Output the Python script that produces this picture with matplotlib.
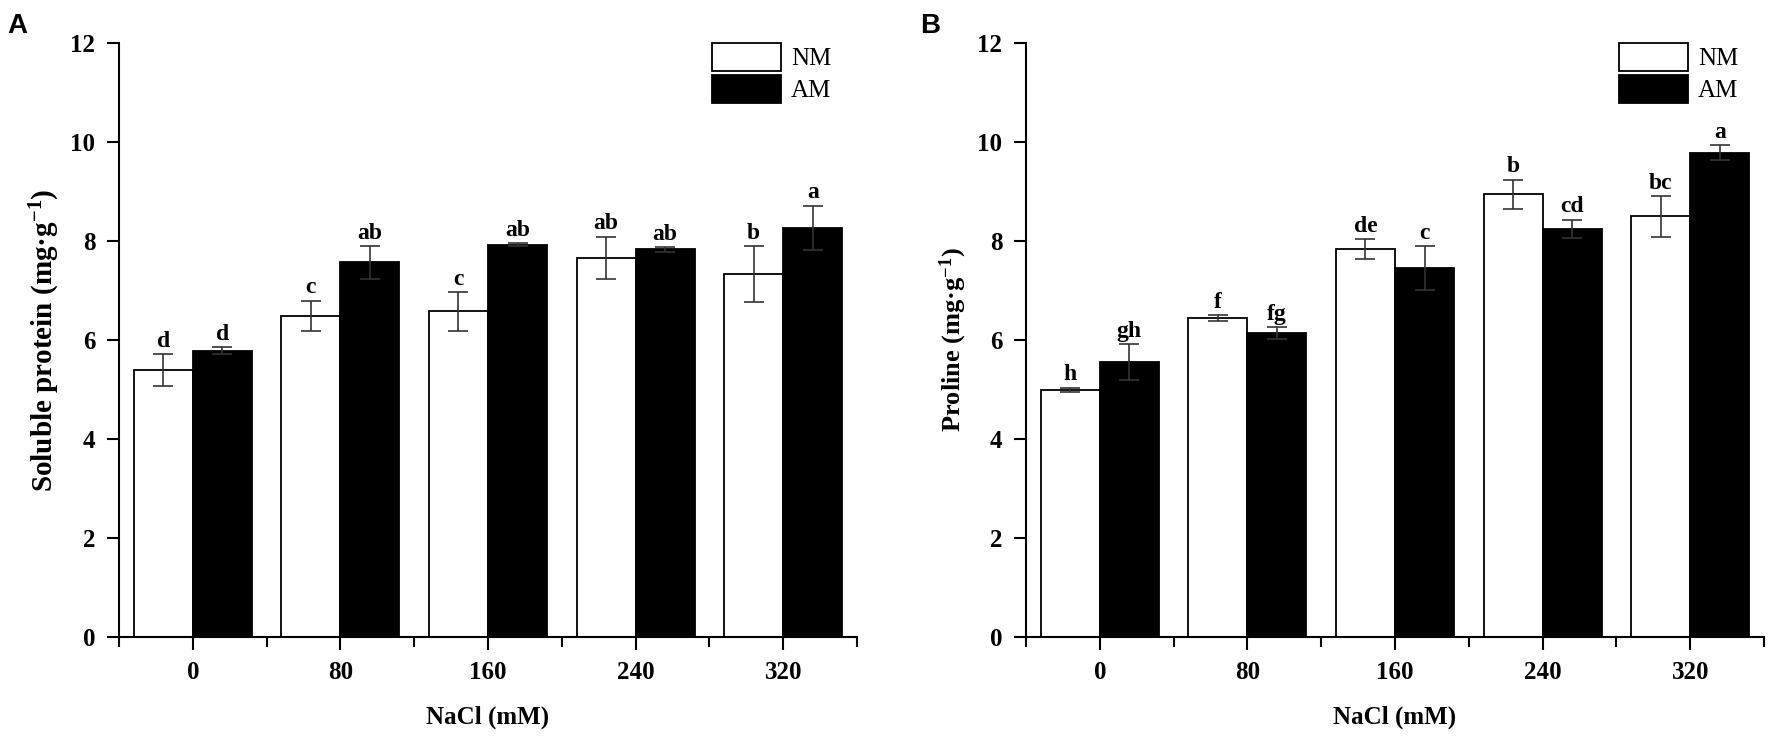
import numpy as np
import matplotlib
matplotlib.use("Agg")
import matplotlib.pyplot as plt
from matplotlib.ticker import MultipleLocator, FixedLocator

plt.rcParams['font.family'] = ['Liberation Serif', 'DejaVu Serif']
plt.rcParams['mathtext.fontset'] = 'custom'
plt.rcParams['mathtext.rm'] = 'Liberation Serif:bold'
plt.rcParams['mathtext.bf'] = 'Liberation Serif:bold'
plt.rcParams['mathtext.default'] = 'bf'

# NaCl levels
nacl = ['0', '80', '160', '240', '320']

# panel A - soluble protein
protein_nm = [5.39, 6.49, 6.58, 7.66, 7.33]
protein_nm_err = [0.32, 0.30, 0.39, 0.43, 0.57]
protein_am = [5.78, 7.57, 7.92, 7.83, 8.26]
protein_am_err = [0.07, 0.33, 0.03, 0.05, 0.45]
protein_nm_sig = ['d', 'c', 'c', 'ab', 'b']
protein_am_sig = ['d', 'ab', 'ab', 'ab', 'a']

# panel B - proline
proline_nm = [4.99, 6.44, 7.84, 8.94, 8.50]
proline_nm_err = [0.05, 0.06, 0.20, 0.30, 0.41]
proline_am = [5.55, 6.14, 7.45, 8.25, 9.78]
proline_am_err = [0.36, 0.12, 0.44, 0.18, 0.15]
proline_nm_sig = ['h', 'f', 'de', 'b', 'bc']
proline_am_sig = ['gh', 'fg', 'c', 'cd', 'a']

W, H = 1775, 746
fig = plt.figure(figsize=(W / 100, H / 100), dpi=100)

bw = 0.4


def panel(ax, nm, nm_err, am, am_err, nm_sig, am_sig, ylabel, ylabel_size):
    x = np.arange(len(nacl))
    ax.bar(x - bw / 2, nm, width=bw, color='white', edgecolor='black',
           linewidth=1.3, label='NM', zorder=2)
    ax.bar(x + bw / 2, am, width=bw, color='black', edgecolor='black',
           linewidth=1.3, label='AM', zorder=2)
    ax.errorbar(x - bw / 2, nm, yerr=nm_err, fmt='none', ecolor='0.2',
                elinewidth=1.2, capsize=7, capthick=1.2, zorder=3)
    ax.errorbar(x + bw / 2, am, yerr=am_err, fmt='none', ecolor='0.2',
                elinewidth=1.2, capsize=7, capthick=1.2, zorder=3)
    for i in range(len(nacl)):
        ax.text(x[i] - bw / 2, nm[i] + nm_err[i] + 0.15, nm_sig[i],
                ha='center', va='baseline', fontsize=17, fontweight='bold')
        ax.text(x[i] + bw / 2, am[i] + am_err[i] + 0.15, am_sig[i],
                ha='center', va='baseline', fontsize=17, fontweight='bold')

    ax.set_xlim(-0.5, len(nacl) - 0.5)
    ax.set_ylim(0, 12)
    ax.yaxis.set_major_locator(MultipleLocator(2))
    ax.set_xticks(x)
    ax.set_xticklabels(nacl)
    ax.xaxis.set_minor_locator(FixedLocator(np.arange(-0.5, len(nacl), 1.0)))
    ax.tick_params(axis='both', which='major', direction='out', length=9,
                   width=1.5, labelsize=18, pad=8)
    ax.tick_params(axis='x', which='minor', direction='out', length=7,
                   width=1.5)
    for lab in ax.get_xticklabels() + ax.get_yticklabels():
        lab.set_fontweight('bold')
    ax.spines['top'].set_visible(False)
    ax.spines['right'].set_visible(False)
    ax.spines['left'].set_linewidth(1.5)
    ax.spines['bottom'].set_linewidth(1.5)

    ax.set_xlabel('NaCl (mM)', fontsize=18, fontweight='bold', labelpad=16)
    ax.set_ylabel(ylabel, fontsize=ylabel_size, fontweight='bold', labelpad=6)

    ax.legend(loc='upper right', bbox_to_anchor=(0.965, 1.0), frameon=False,
              fontsize=18, handlelength=2.75, handleheight=1.35,
              labelspacing=0.15, handletextpad=0.4, borderpad=0,
              borderaxespad=0)


axA = fig.add_axes([119 / W, 1 - 637 / H, 738 / W, 594 / H])
axB = fig.add_axes([1026 / W, 1 - 637 / H, 738 / W, 594 / H])

panel(axA, protein_nm, protein_nm_err, protein_am, protein_am_err,
      protein_nm_sig, protein_am_sig, 'Soluble protein (mg·g$^{-1}$)', 21)
panel(axB, proline_nm, proline_nm_err, proline_am, proline_am_err,
      proline_nm_sig, proline_am_sig, 'Proline (mg·g$^{-1}$)', 19)

fig.text(7 / W, 1 - 33 / H, 'A', fontsize=20, fontweight='bold',
         family='Liberation Sans', ha='left', va='baseline')
fig.text(920 / W, 1 - 33 / H, 'B', fontsize=20, fontweight='bold',
         family='Liberation Sans', ha='left', va='baseline')

fig.savefig('out.png', dpi=100)
